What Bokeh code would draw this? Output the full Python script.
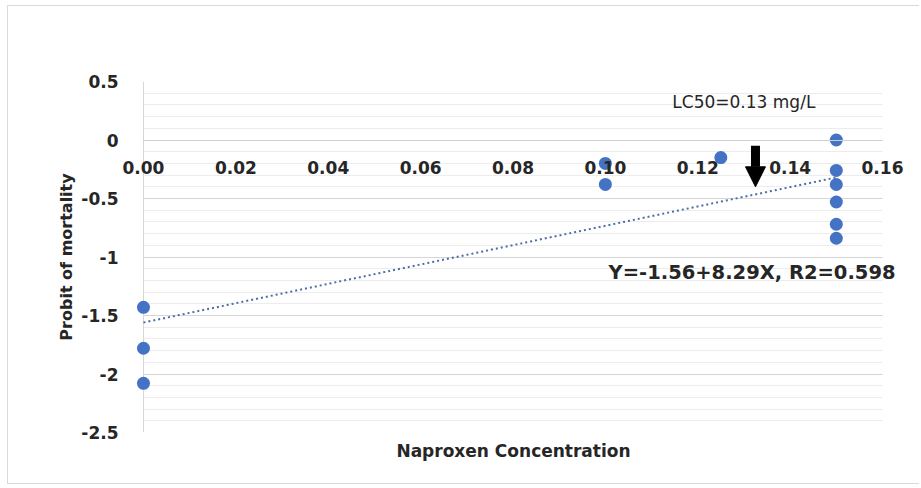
from bokeh.plotting import figure
from bokeh.models import (LinearAxis, FixedTicker, SingleIntervalTicker, NumeralTickFormatter,
                          Arrow, NormalHead, Label, Span, BoxAnnotation)
from bokeh.embed import file_html
from bokeh.resources import INLINE

# ---- data ----
concentration = [0.0, 0.0, 0.0, 0.10, 0.10, 0.125, 0.15, 0.15, 0.15, 0.15, 0.15, 0.15]
probit = [-1.43, -1.78, -2.08, -0.20, -0.38, -0.15, 0.00, -0.26, -0.38, -0.53, -0.72, -0.84]

trend_x = [0.0, 0.15]
trend_y = [-1.56, -0.32]

x_ticks = [0.00, 0.02, 0.04, 0.06, 0.08, 0.10, 0.12, 0.14, 0.16]
y_ticks = [0.5, 0.0, -0.5, -1.0, -1.5, -2.0, -2.5]
y_tick_labels = ["0.5", "0", "-0.5", "-1", "-1.5", "-2", "-2.5"]

lc50_text = "LC50=0.13 mg/L"
equation_text = "Y=-1.56+8.29X, R2=0.598"
lc50_x = 0.1325

FONT = "DejaVu Sans"
TXT = "#262626"
GRID = "#d6d6d6"

# view range: data area 0..0.16, with a little room either side for labels
p = figure(width=912, height=479, output_backend="svg", toolbar_location=None,
           x_range=(-0.00476, 0.16498), y_range=(-2.5, 0.5),
           min_border_left=113, min_border_right=15, min_border_top=75, min_border_bottom=53)
p.styles = {"border-left": "1px solid #d9d9d9", "border-top": "1px solid #d9d9d9",
            "border-bottom": "1px solid #d9d9d9", "margin-left": "7px", "margin-top": "5px"}
p.outline_line_color = None
p.background_fill_color = "white"
p.border_fill_color = "white"

# grids
p.xgrid.grid_line_color = None
p.ygrid.grid_line_color = GRID
p.ygrid.minor_grid_line_color = "#ececec"

# white masks so the horizontal grid only spans 0..0.16
p.add_layout(BoxAnnotation(right=0, fill_color="white", fill_alpha=1, line_color=None, level="underlay"))
p.add_layout(BoxAnnotation(left=0.16, fill_color="white", fill_alpha=1, line_color=None, level="underlay"))

# vertical axis line at x = 0
p.add_layout(Span(location=0, dimension="height", line_color=GRID, line_width=1, level="underlay"))

# y axis
ya = p.yaxis[0]
ya.ticker = SingleIntervalTicker(interval=0.5, num_minor_ticks=5)
ya.major_label_overrides = {t: s for t, s in zip(y_ticks, y_tick_labels)}
ya.axis_line_color = None
ya.major_tick_line_color = None
ya.minor_tick_line_color = None
ya.major_tick_out = 0
ya.minor_tick_out = 0
ya.major_label_standoff = 3
ya.major_label_text_font = FONT
ya.major_label_text_font_style = "bold"
ya.major_label_text_font_size = "17px"
ya.major_label_text_color = TXT
ya.axis_label = "Probit of mortality"
ya.axis_label_text_font = FONT
ya.axis_label_text_font_style = "bold"
ya.axis_label_text_font_size = "16px"
ya.axis_label_text_color = TXT
ya.axis_label_standoff = 2

# bottom axis: title only
xb = p.xaxis[0]
xb.ticker = FixedTicker(ticks=[])
xb.axis_line_color = None
xb.major_tick_line_color = None
xb.minor_tick_line_color = None
xb.axis_label = "Naproxen Concentration"
xb.axis_label_text_font = FONT
xb.axis_label_text_font_style = "bold"
xb.axis_label_text_font_size = "17px"
xb.axis_label_text_color = TXT
xb.axis_label_standoff = 8

# x axis crossing at y = 0
xa = LinearAxis(fixed_location=0, ticker=FixedTicker(ticks=x_ticks),
                formatter=NumeralTickFormatter(format="0.00"), bounds=(0, 0.16))
xa.axis_line_color = "#cfcfcf"
xa.major_tick_line_color = None
xa.minor_tick_line_color = None
xa.major_tick_out = 0
xa.major_label_standoff = 21
xa.major_label_text_font = FONT
xa.major_label_text_font_style = "bold"
xa.major_label_text_font_size = "17px"
xa.major_label_text_color = TXT
p.add_layout(xa, "below")

# trend line and points
p.line(trend_x, trend_y, line_color="#4a6fa5", line_width=2, line_dash="2 3")
p.scatter(concentration, probit, size=13, fill_color="#4472C4", line_color=None)

# arrow at LC50
p.add_layout(Arrow(end=NormalHead(size=20, fill_color="black", line_color="black"),
                   x_start=lc50_x, y_start=-0.05, x_end=lc50_x, y_end=-0.40,
                   line_width=9, line_color="black"))

p.add_layout(Label(x=0.1145, y=0.328, text=lc50_text, text_baseline="middle",
                   text_font=FONT, text_font_size="17px", text_color=TXT))
p.add_layout(Label(x=0.1007, y=-1.13, text=equation_text, text_baseline="middle",
                   text_font=FONT, text_font_style="bold", text_font_size="19.5px",
                   text_color=TXT))

open("out.html", "w").write(file_html(p, INLINE))
